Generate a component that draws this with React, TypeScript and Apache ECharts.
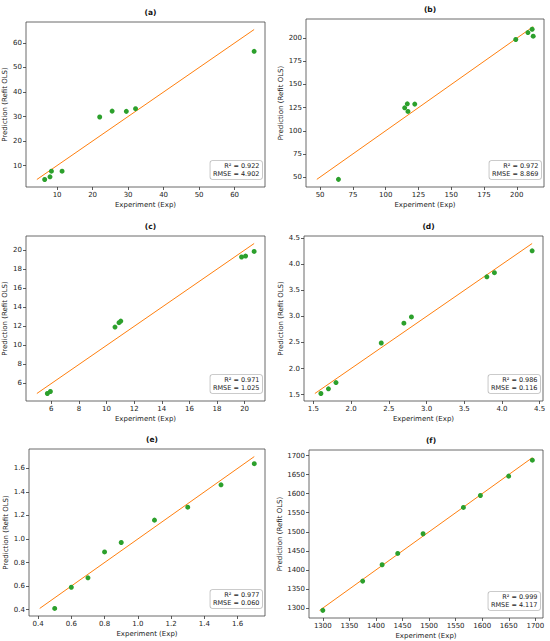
import React, { useEffect, useRef } from "react";
import * as echarts from "echarts";

// ---- data ----
const panelLabels = ["(a)", "(b)", "(c)", "(d)", "(e)", "(f)"];

const aExp = [6.5, 8.0, 8.4, 11.4, 22.0, 25.5, 29.5, 32.1, 65.5];
const aPred = [4.3, 5.4, 7.7, 7.7, 29.8, 32.2, 32.1, 33.2, 56.6];
const aTicks = [10, 20, 30, 40, 50, 60];

const bExp = [64.0, 114.5, 116.5, 117.0, 122.2, 199.2, 208.5, 211.7, 212.5];
const bPred = [47.5, 124.8, 129.1, 120.9, 128.8, 198.6, 206.1, 209.7, 202.2];
const bTicks = [50, 75, 100, 125, 150, 175, 200];

const cExp = [5.71, 5.93, 10.61, 10.9, 11.03, 19.78, 20.07, 20.69];
const cPred = [4.95, 5.16, 11.92, 12.38, 12.55, 19.27, 19.37, 19.86];
const cTicks = [6, 8, 10, 12, 14, 16, 18, 20];

const dExp = [1.6, 1.7, 1.8, 2.4, 2.7, 2.8, 3.8, 3.9, 4.4];
const dPred = [1.52, 1.61, 1.73, 2.49, 2.87, 2.99, 3.76, 3.84, 4.26];
const dTicks = [1.5, 2.0, 2.5, 3.0, 3.5, 4.0, 4.5];

const eExp = [0.5, 0.6, 0.7, 0.8, 0.9, 1.1, 1.3, 1.5, 1.7];
const ePred = [0.41, 0.59, 0.67, 0.89, 0.97, 1.16, 1.27, 1.46, 1.64];
const eTicks = [0.4, 0.6, 0.8, 1.0, 1.2, 1.4, 1.6];

const fExp = [1300, 1375, 1411.6, 1441, 1488.7, 1564.6, 1596.6, 1649.8, 1694.4];
const fPred = [1294, 1370.7, 1413.5, 1443.2, 1494.8, 1563.8, 1595.2, 1645.9, 1687.8];
const fTicks = [1300, 1350, 1400, 1450, 1500, 1550, 1600, 1650, 1700];

const r2Values = ["0.922", "0.972", "0.971", "0.986", "0.977", "0.999"];
const rmseValues = ["4.902", "8.869", "1.025", "0.116", "0.060", "4.117"];
const tickDecimals = [0, 0, 0, 1, 1, 0];

// ---- layout ----
const grids = [
  { left: 26, top: 22, width: 239, height: 165 },
  { left: 306, top: 19, width: 238, height: 168 },
  { left: 26, top: 236, width: 239, height: 165 },
  { left: 304, top: 236, width: 239, height: 165 },
  { left: 29, top: 449, width: 236, height: 167 },
  { left: 309, top: 450, width: 234, height: 168 },
];

const FONT = "DejaVu Sans";

export default function App() {
  const ref = useRef<HTMLDivElement>(null);
  useEffect(() => {
    if (!ref.current) return;
    const chart = echarts.init(ref.current, undefined, { renderer: "svg" });
    const exps = [aExp, bExp, cExp, dExp, eExp, fExp];
    const preds = [aPred, bPred, cPred, dPred, ePred, fPred];
    const ticks = [aTicks, bTicks, cTicks, dTicks, eTicks, fTicks];

    const title: any[] = [];
    const xAxis: any[] = [];
    const yAxis: any[] = [];
    const series: any[] = [];
    const graphic: any[] = [];

    grids.forEach((g, i) => {
      const xs = exps[i];
      const ys = preds[i];
      const lo = Math.min(...xs, ...ys);
      const hi = Math.max(...xs, ...ys);
      const pad = (hi - lo) * 0.05;
      const mn = lo - pad;
      const mx = hi + pad;
      const dec = tickDecimals[i];
      const axisCommon = {
        min: mn,
        max: mx,
        gridIndex: i,
        splitLine: { show: false },
        axisLine: { show: false },
        axisTick: {
          show: true,
          length: 3,
          customValues: ticks[i],
          lineStyle: { color: "#333", width: 0.8 },
        },
        axisLabel: {
          customValues: ticks[i],
          fontSize: 7,
          color: "#222",
          fontFamily: FONT,
          margin: 4,
          formatter: (v: number) => v.toFixed(dec),
        },
        nameTextStyle: { fontSize: 7, color: "#222", fontFamily: FONT, fontWeight: "normal" },
        nameLocation: "middle",
      };
      xAxis.push({ ...axisCommon, type: "value", name: "Experiment (Exp)", nameGap: 14 });
      yAxis.push({ ...axisCommon, type: "value", name: "Prediction (Refit OLS)", nameGap: i === 1 || i === 5 ? 22 : 18 });

      series.push({
        type: "line",
        xAxisIndex: i,
        yAxisIndex: i,
        data: [
          [lo, lo],
          [hi, hi],
        ],
        showSymbol: false,
        symbol: "none",
        lineStyle: { color: "#ff7f0e", width: 1 },
        z: 2,
      });
      series.push({
        type: "scatter",
        xAxisIndex: i,
        yAxisIndex: i,
        data: xs.map((x, k) => [x, ys[k]]),
        symbolSize: 5,
        itemStyle: { color: "#2ca02c", opacity: 1 },
        z: 3,
      });

      title.push({
        text: panelLabels[i],
        left: g.left + g.width / 2,
        top: g.top - 19,
        textAlign: "center",
        textStyle: { fontSize: 7.5, fontWeight: "bold", color: "#111", fontFamily: FONT },
      });

      graphic.push({
        type: "text",
        z: 10,
        style: {
          text: `R² = ${r2Values[i]}\nRMSE = ${rmseValues[i]}`,
          x: g.left + g.width - 3,
          y: g.top + g.height - 8,
          align: "right",
          verticalAlign: "bottom",
          fontSize: 6.5,
          lineHeight: 7.5,
          fontFamily: FONT,
          fill: "#222",
          backgroundColor: "#fff",
          borderColor: "#bbb",
          borderWidth: 0.8,
          borderRadius: 2,
          padding: [1.5, 2.5, 1.5, 2.5],
        },
      });
    });

    chart.setOption({
      animation: false,
      backgroundColor: "#fff",
      title,
      grid: grids.map((g) => ({
        ...g,
        show: true,
        borderColor: "#444",
        borderWidth: 0.8,
        backgroundColor: "transparent",
        containLabel: false,
      })),
      xAxis,
      yAxis,
      series,
      graphic,
    });
    return () => chart.dispose();
  }, []);
  return (
    <div
      ref={ref}
      style={{ position: "fixed", left: 0, top: 0, width: 550, height: 641, background: "#fff" }}
    />
  );
}
